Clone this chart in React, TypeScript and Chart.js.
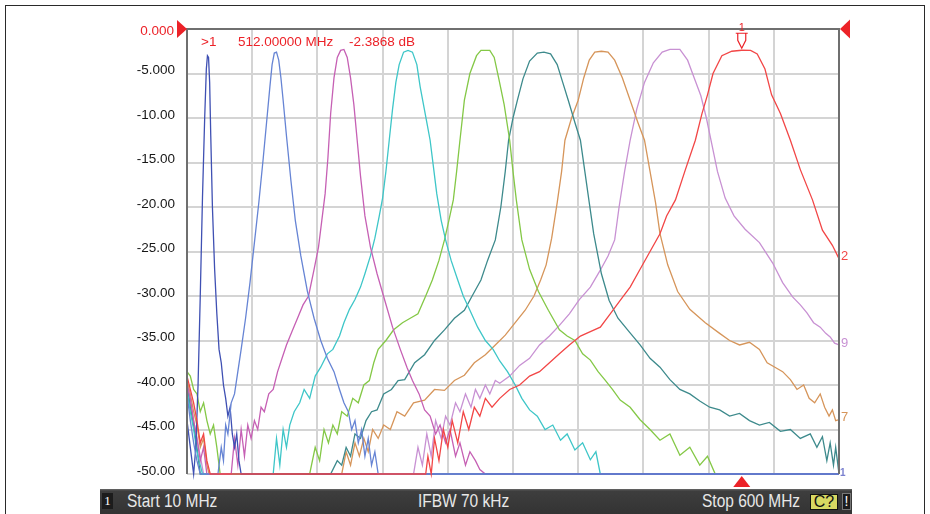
import React, { useEffect, useRef } from "react";
import { Chart, registerables } from "chart.js";

Chart.register(...registerables);

// ---- axis definition ----
const startFreqMHz = 10;
const stopFreqMHz = 600;
const topDb = 0;
const bottomDb = -50;
const dbStep = 5;
const freqGrid = [10, 69, 128, 187, 246, 305, 364, 423, 482, 541, 600];
const refLevelLabel = "0.000";

// ---- marker readout ----
const markerFreqMHz = 512;
const markerLevelDb = -2.3868;
const readoutTexts = [">1", "512.00000 MHz", "-2.3868 dB"];
const statusTexts = ["Start 10 MHz", "IFBW 70 kHz", "Stop 600 MHz"];

// ---- traces: [frequency MHz, level dB] ----
const traceRed: [number, number][] = [[10,-39],[13,-40.5],[16,-42],[19,-44],[22,-46.5],[25,-45.5],[28,-48.5],[31,-50],[226,-50],[228,-48],[231,-50],[234,-46],[238,-48.5],[242,-45],[246,-47],[250,-44],[255,-46.5],[260,-43],[265,-45],[270,-42.5],[275,-43.5],[280,-41.5],[286,-42.5],[293,-41.5],[302,-40.5],[311,-40],[320,-39],[329,-38.5],[338,-37.5],[347,-36.5],[356,-35.5],[366,-34.5],[375,-34],[384,-33.5],[393,-32],[402,-30.5],[411,-29],[420,-27],[429,-25],[438,-23],[444,-21],[452,-19.2],[461,-15.8],[470,-12.5],[476,-9.5],[481,-7.4],[486,-5],[494,-3],[503,-2.5],[512,-2.39],[520,-2.4],[526,-2.8],[533,-4.5],[539,-7.4],[547,-9.5],[556,-12.5],[565,-15.8],[576,-19.2],[585,-22.6],[594,-24.3],[600,-25.8]];

const traceBlue: [number, number][] = [[10,-41],[13,-44],[16,-46.5],[19,-48.5],[22,-50],[38,-50],[41,-47],[43,-48.5],[45,-44.5],[47,-45.5],[50,-42],[53,-41],[56,-38.5],[59,-36],[63,-32.5],[67,-28.5],[71,-24],[75,-19.5],[79,-14.5],[82,-10.5],[85,-6.5],[87,-4],[89,-2.7],[91,-2.6],[93,-3.5],[95,-5.5],[97,-8],[100,-12],[104,-17],[108,-21.5],[113,-25.5],[119,-29.5],[125,-32.5],[131,-35],[137,-37],[143,-38.5],[148,-40.5],[152,-42],[156,-43],[159,-45],[162,-44],[165,-46.5],[168,-45],[171,-48],[174,-46],[177,-49],[180,-47.5],[183,-50],[600,-50]];

const traceNavy: [number, number][] = [[10,-44],[13,-47],[16,-50],[18,-47],[20,-40],[22,-30],[24,-19],[26,-10],[27.5,-4.5],[28.5,-3],[29.5,-3.2],[30.5,-6],[31.5,-12],[33,-20],[35,-27],[37,-32],[39,-36],[41,-37.5],[43,-40],[45,-41.5],[47,-43.5],[49,-42.5],[51,-45.5],[53,-47],[55,-45.5],[57,-48.5],[59,-50],[600,-50]];

const traceMagenta: [number, number][] = [[10,-40],[13,-41.5],[16,-44],[19,-46],[22,-48.5],[25,-47],[28,-50],[50,-50],[53,-46],[56,-49],[59,-45],[62,-48],[65,-44.5],[68,-46],[71,-44],[74,-45],[77,-42.5],[80,-43],[84,-41],[88,-40.5],[92,-38.5],[96,-37],[100,-35.5],[105,-34],[110,-32.5],[115,-31],[120,-30],[125,-27],[129,-24.5],[132,-21.5],[135,-18.5],[137.5,-14.5],[140,-9.5],[143,-5.5],[146,-3.2],[149,-2.4],[152,-2.3],[155,-3.2],[158,-5.5],[161,-8.5],[164,-12.5],[167,-16.5],[171,-21],[176,-24.5],[182,-27.5],[189,-30.5],[196,-33.5],[203,-36],[209,-38],[214,-39.5],[220,-41],[225,-42.8],[230,-43.5],[235,-45.5],[239,-44.5],[244,-46.5],[248,-45],[253,-48],[257,-46.5],[262,-49],[266,-47.5],[271,-48.5],[275,-49.5],[280,-50],[600,-50]];

const traceCyan: [number, number][] = [[10,-40.5],[13,-43],[16,-45],[19,-47.5],[22,-49],[24,-50],[88,-50],[91,-46],[94,-49],[97,-45],[100,-47],[103,-44.5],[107,-43],[112,-42],[116,-40.5],[121,-41.5],[126,-39],[131,-38],[137,-36.5],[142,-36],[148,-34.5],[152,-33],[157,-31.5],[162,-30.4],[167,-29],[171,-27.5],[176,-25.5],[180,-23.5],[184,-21],[187,-19],[190,-16],[193,-12.5],[196,-9],[199,-6],[202,-4],[206,-2.6],[210,-2.4],[214,-2.6],[218,-4],[221,-6.5],[224,-8.5],[227,-10.5],[230,-12.5],[233,-15.5],[236,-18.5],[240,-21.5],[244,-23.7],[249,-26],[255,-28.2],[260,-30],[266,-31.6],[273,-33.5],[280,-35],[287,-36],[293,-37.3],[300,-38.5],[307,-40],[313,-41.5],[320,-42.8],[327,-43.5],[334,-45],[341,-44.5],[348,-46.2],[354,-45.5],[361,-47.3],[368,-46.5],[375,-48.4],[380,-47.5],[384,-50],[600,-50]];

const traceGreen: [number, number][] = [[10,-38.5],[13,-39],[16,-40.5],[19,-41],[22,-43],[25,-42],[28,-44],[31,-45.5],[34,-44.5],[37,-47],[40,-50],[121,-50],[126,-47],[130,-48.5],[134,-45],[138,-46.5],[142,-44.5],[146,-45.5],[150,-43],[155,-43.5],[160,-41.5],[165,-42],[170,-40],[175,-39.5],[179,-37.5],[183,-36],[190,-35],[197,-33.8],[205,-33],[212,-32.5],[219,-32],[226,-30],[232,-28.2],[238,-26],[243,-23.7],[247,-21.5],[251,-19.2],[254,-16],[257,-12.5],[261,-8],[266,-5],[272,-3],[276,-2.4],[284,-2.4],[288,-3.2],[292,-5.5],[297,-8.5],[302,-12.5],[305,-16],[308,-19.2],[313,-23.7],[320,-27],[328,-29.5],[337,-31.6],[347,-33.8],[354,-34.5],[361,-35],[368,-36.5],[375,-37.2],[382,-38.5],[388,-39.4],[395,-40.5],[402,-41.7],[411,-42.5],[420,-43.9],[429,-45],[438,-46.2],[447,-45.5],[456,-47.9],[465,-47],[474,-49],[481,-48],[488,-50],[600,-50]];

const traceTeal: [number, number][] = [[10,-40],[13,-42.5],[16,-44.5],[19,-47],[22,-50],[140,-50],[146,-48.5],[150,-49],[154,-47],[158,-48],[162,-45.5],[167,-46],[172,-44],[177,-43],[182,-42.8],[188,-41],[195,-40.5],[201,-39.5],[207,-39.4],[216,-37.5],[225,-36.6],[234,-35],[243,-33.8],[252,-32.5],[261,-31.6],[268,-30],[276,-28.2],[282,-26],[289,-23.7],[294,-20],[298,-16],[301,-12.5],[305,-10],[309,-8],[314,-5.6],[320,-3.6],[327,-2.7],[333,-2.6],[339,-2.8],[345,-4],[350,-6],[355,-8],[361,-10.5],[366,-12.5],[370,-16],[374,-19.5],[378,-23],[385,-27.5],[392,-30.5],[400,-32.5],[410,-34],[420,-35.5],[429,-37],[438,-38],[447,-39.4],[456,-40.5],[465,-41],[474,-41.8],[483,-42.5],[492,-42.8],[501,-43.5],[510,-43.2],[519,-44],[528,-44.5],[537,-44.2],[547,-45.2],[556,-45],[565,-46],[574,-45.5],[580,-47],[585,-45.8],[589,-48.5],[592,-46.5],[595,-49],[597,-47],[600,-50]];

const traceOrange: [number, number][] = [[10,-39.5],[13,-41],[16,-43],[19,-44.5],[22,-47],[25,-46],[28,-49],[30,-50],[150,-50],[154,-47.5],[158,-49],[162,-46.5],[166,-48],[170,-46],[174,-47.5],[178,-45],[183,-46],[188,-44.5],[194,-45],[200,-43],[207,-43.5],[215,-42],[225,-41.7],[234,-40.5],[243,-40.6],[252,-39.5],[261,-38.9],[270,-37.5],[280,-36.6],[289,-35.5],[298,-34.4],[307,-33],[316,-31.6],[324,-30],[330,-28.2],[335,-26.5],[340,-23.5],[345,-19.5],[349,-16],[352,-12.5],[358,-10],[364,-8],[369,-5.5],[374,-3.5],[379,-2.6],[385,-2.5],[391,-2.6],[397,-3.5],[404,-5.5],[411,-8],[418,-10.5],[424,-12.5],[429,-16],[434,-19.5],[438,-23],[445,-26.5],[454,-29.5],[465,-31.5],[479,-33],[492,-34.2],[501,-35],[510,-35.5],[519,-35.2],[528,-36],[535,-37.5],[542,-38],[549,-38.5],[556,-39.4],[562,-40.5],[568,-40],[573,-41.5],[578,-42],[583,-41],[587,-42.5],[591,-43.5],[594,-42.8],[597,-44],[600,-43.9]];

const traceLavender: [number, number][] = [[10,-39.5],[13,-42],[16,-44],[19,-46],[22,-48],[25,-50],[215,-50],[219,-47],[223,-49],[227,-45.5],[231,-48],[235,-44],[240,-46],[244,-43.5],[248,-44.5],[253,-42],[257,-43],[262,-41],[267,-42.5],[271,-40.5],[275,-41.5],[280,-40],[284,-41],[289,-39.5],[293,-39.8],[302,-39],[311,-37.8],[320,-37],[329,-35.5],[338,-34.5],[347,-33.3],[356,-32],[365,-30.4],[375,-29],[384,-27.1],[391,-25.5],[397,-23.7],[401,-20],[406,-16],[411,-12.5],[417,-9],[424,-6],[432,-3.8],[440,-2.6],[447,-2.3],[456,-2.3],[463,-3.5],[469,-5.5],[475,-7.5],[480,-10],[485,-13],[490,-16],[497,-19],[505,-21],[515,-22.5],[528,-24],[540,-26.3],[549,-28.5],[558,-30.1],[565,-31],[571,-31.9],[577,-33],[583,-33.5],[588,-34.2],[592,-34.6],[596,-35.3],[600,-35.5]];

// drawing order: first = top-most
const traceSeries = [traceRed, traceBlue, traceNavy, traceMagenta, traceCyan, traceGreen, traceTeal, traceOrange, traceLavender];
const traceColors = ["#f24646", "#6684d4", "#3f50b3", "#c660b4", "#3ec6c8", "#84c846", "#3d8a8c", "#d6955a", "#c891d3"];
const traceTags = ["2", "", "", "", "", "", "", "7", "9"];

const RED = "#ec2228";
const FONT = '"Liberation Sans", Arial, sans-serif';

const overlayPlugin = {
  id: "vnaOverlay",
  afterDatasetsDraw(chart: any) {
    const { ctx, chartArea: a, scales } = chart;
    const xs = scales.x;
    const ys = scales.y;
    ctx.save();
    // frame
    ctx.strokeStyle = "#6f6f6f";
    ctx.lineWidth = 2;
    ctx.beginPath();
    ctx.moveTo(a.left, a.bottom);
    ctx.lineTo(a.left, a.top);
    ctx.lineTo(a.right, a.top);
    ctx.lineTo(a.right, a.bottom);
    ctx.stroke();

    const y0 = ys.getPixelForValue(topDb);
    // reference level label
    ctx.fillStyle = RED;
    ctx.font = `13.5px ${FONT}`;
    ctx.textAlign = "right";
    ctx.textBaseline = "middle";
    ctx.fillText(refLevelLabel, a.left - 13, y0 + 2.5);

    // reference-level triangles
    ctx.beginPath();
    ctx.moveTo(a.left, y0);
    ctx.lineTo(a.left - 10, y0 - 9);
    ctx.lineTo(a.left - 10, y0 + 9);
    ctx.closePath();
    ctx.fill();
    ctx.beginPath();
    ctx.moveTo(a.right + 1, y0);
    ctx.lineTo(a.right + 11, y0 - 9.5);
    ctx.lineTo(a.right + 11, y0 + 9.5);
    ctx.closePath();
    ctx.fill();

    // marker
    const mx = xs.getPixelForValue(markerFreqMHz);
    const my = ys.getPixelForValue(markerLevelDb);
    ctx.beginPath();
    ctx.moveTo(mx, a.bottom + 2);
    ctx.lineTo(mx - 8.5, a.bottom + 13);
    ctx.lineTo(mx + 8.5, a.bottom + 13);
    ctx.closePath();
    ctx.fill();

    ctx.strokeStyle = RED;
    ctx.lineWidth = 1.2;
    ctx.beginPath();
    ctx.moveTo(mx - 6, my - 17);
    ctx.lineTo(mx + 6, my - 17);
    ctx.moveTo(mx - 4, my - 17);
    ctx.lineTo(mx - 4, my - 10);
    ctx.lineTo(mx, my - 2);
    ctx.lineTo(mx + 4, my - 10);
    ctx.lineTo(mx + 4, my - 17);
    ctx.stroke();
    ctx.font = `11px ${FONT}`;
    ctx.textAlign = "center";
    ctx.textBaseline = "alphabetic";
    ctx.fillText("1", mx, my - 19.5);

    // readout
    ctx.font = `13.5px ${FONT}`;
    ctx.textAlign = "left";
    ctx.fillText(readoutTexts[0], 201, 46);
    ctx.fillText(readoutTexts[1], 238, 46);
    ctx.fillText(readoutTexts[2], 349, 46);

    // trace end tags
    ctx.font = `13px ${FONT}`;
    ctx.textBaseline = "middle";
    traceSeries.forEach((s, i) => {
      const tag = traceTags[i];
      if (!tag) return;
      const last = s[s.length - 1];
      ctx.fillStyle = traceColors[i];
      ctx.fillText(tag, a.right + 2, ys.getPixelForValue(last[1]) - 2);
    });
    ctx.font = `bold 10px ${FONT}`;
    ctx.fillStyle = "#7a80cf";
    ctx.fillText("1", a.right + 1, a.bottom - 1);
    ctx.restore();
  },
};

export default function App() {
  const canvasRef = useRef<HTMLCanvasElement | null>(null);

  useEffect(() => {
    const canvas = canvasRef.current;
    if (!canvas) return;
    const chart = new Chart(canvas, {
      type: "line",
      data: {
        datasets: traceSeries.map((s, i) => ({
          label: `Tr${i + 1}`,
          data: s.map(([f, d]) => ({ x: f, y: d })),
          borderColor: traceColors[i],
          backgroundColor: traceColors[i],
          borderWidth: 1.3,
          pointRadius: 0,
          tension: 0,
          fill: false,
          clip: false,
        })),
      },
      options: {
        animation: false,
        responsive: false,
        maintainAspectRatio: false,
        devicePixelRatio: 1,
        events: [],
        layout: { padding: { left: 0, right: 91, top: 29, bottom: 40 } },
        plugins: { legend: { display: false }, tooltip: { enabled: false } },
        scales: {
          x: {
            type: "linear",
            min: startFreqMHz,
            max: stopFreqMHz,
            afterBuildTicks: (scale: any) => {
              scale.ticks = freqGrid.map((v) => ({ value: v }));
            },
            afterFit: (scale: any) => {
              scale.height = 0;
            },
            ticks: { display: false },
            border: { display: false },
            grid: { color: "#d4d4d4", lineWidth: 2, drawTicks: false },
          },
          y: {
            type: "linear",
            min: bottomDb,
            max: topDb,
            afterFit: (scale: any) => {
              scale.width = 187;
            },
            ticks: {
              stepSize: dbStep,
              padding: 12,
              labelOffset: -3,
              font: { family: FONT, size: 13.5 },
              color: "#161616",
              callback: (v: any) => {
                const n = Number(v);
                if (n === 0) return "";
                return Math.abs(n) < 10 ? n.toFixed(3) : n.toFixed(2);
              },
            },
            border: { display: false },
            grid: { color: "#d4d4d4", lineWidth: 2, drawTicks: false },
          },
        },
      },
      plugins: [overlayPlugin],
    });
    return () => chart.destroy();
  }, []);

  const barText: React.CSSProperties = {
    position: "absolute",
    top: 0,
    height: 25,
    lineHeight: "25px",
    fontFamily: FONT,
    fontSize: 18,
    color: "#e8e8e8",
    whiteSpace: "nowrap",
    transform: "scaleX(0.86)",
    transformOrigin: "left center",
  };

  return (
    <div style={{ position: "absolute", left: 0, top: 0, width: 930, height: 514, background: "#fff", overflow: "hidden" }}>
      <div style={{ position: "absolute", left: 5, top: 5, width: 918, height: 600, border: "1px solid #2a2a2a" }} />
      <canvas ref={canvasRef} width={930} height={514} style={{ position: "absolute", left: 0, top: 0, width: 930, height: 514 }} />
      <div
        style={{
          position: "absolute",
          left: 100,
          top: 489,
          width: 752,
          height: 25,
          background: "linear-gradient(#6a6a6a 0px, #3e3e3e 2px, #333333 100%)",
        }}
      >
        <div
          style={{
            position: "absolute",
            left: 2,
            top: 4,
            width: 11,
            height: 16,
            background: "#1c1c1c",
            color: "#fff",
            fontFamily: '"Liberation Serif", serif',
            fontSize: 13,
            lineHeight: "16px",
            textAlign: "center",
          }}
        >
          1
        </div>
        <div style={{ ...barText, left: 27 }}>{statusTexts[0]}</div>
        <div style={{ ...barText, left: 318 }}>{statusTexts[1]}</div>
        <div style={{ ...barText, left: 602 }}>{statusTexts[2]}</div>
        <div
          style={{
            position: "absolute",
            left: 710,
            top: 5,
            width: 28,
            height: 16,
            background: "#d8d862",
            border: "1px solid #111",
            boxSizing: "border-box",
            color: "#111",
            fontFamily: FONT,
            fontSize: 16,
            lineHeight: "14px",
            textAlign: "center",
          }}
        >
          C?
        </div>
        <div
          style={{
            position: "absolute",
            left: 742,
            top: 4,
            width: 9,
            height: 17,
            background: "#1c1c1c",
            border: "1px solid #777",
            boxSizing: "border-box",
            color: "#fff",
            fontFamily: FONT,
            fontSize: 14,
            lineHeight: "15px",
            textAlign: "center",
          }}
        >
          !
        </div>
      </div>
    </div>
  );
}
